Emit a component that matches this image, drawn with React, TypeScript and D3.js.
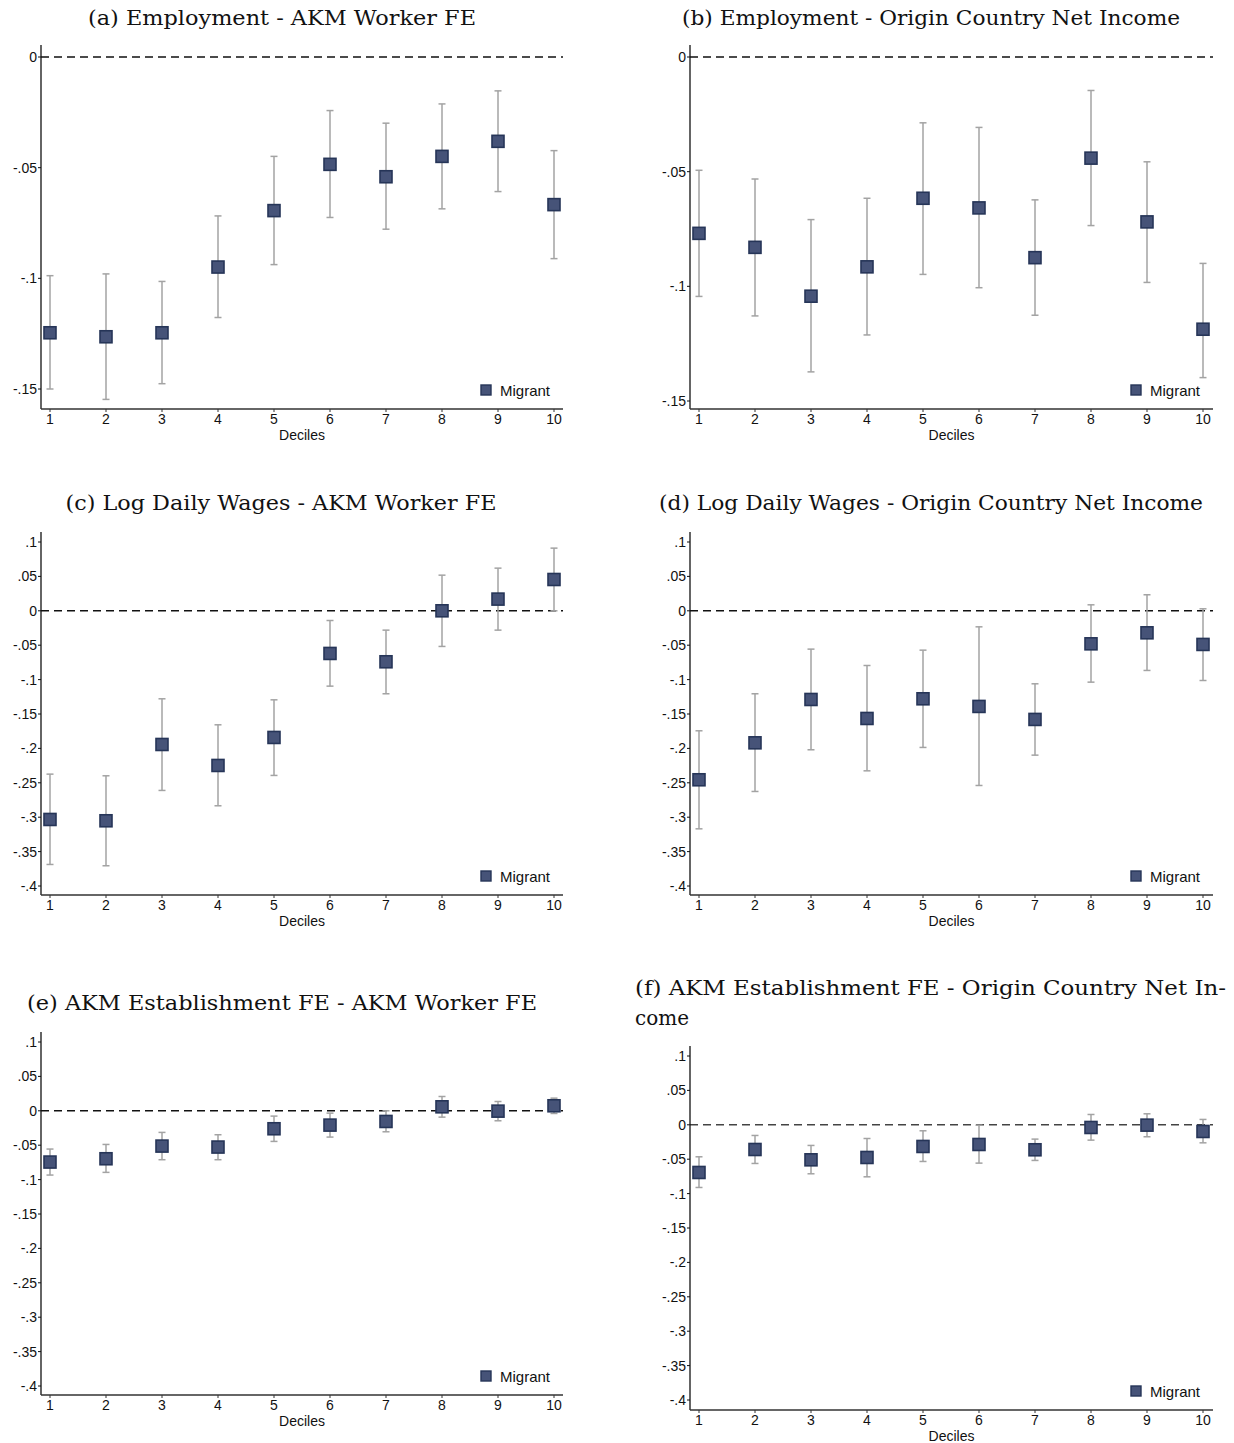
import React from "react";
import * as d3 from "d3";

// Deciles on the x axis
const deciles = [1, 2, 3, 4, 5, 6, 7, 8, 9, 10];

// (a) Employment - AKM Worker FE
const empWorkerCoef = [-0.1246, -0.1264, -0.1246, -0.0949, -0.0694, -0.0485, -0.0541, -0.0449, -0.0381, -0.0667];
const empWorkerLo = [-0.150, -0.1547, -0.1476, -0.1177, -0.0938, -0.0725, -0.0778, -0.0686, -0.0608, -0.0911];
const empWorkerHi = [-0.0988, -0.098, -0.1014, -0.0718, -0.0449, -0.0242, -0.0299, -0.0212, -0.0153, -0.0423];

// (b) Employment - Origin Country Net Income
const empOriginCoef = [-0.0769, -0.083, -0.1043, -0.0915, -0.0616, -0.0658, -0.0875, -0.0441, -0.0719, -0.1187];
const empOriginLo = [-0.1044, -0.1129, -0.1373, -0.1212, -0.0948, -0.1006, -0.1126, -0.0735, -0.0983, -0.1398];
const empOriginHi = [-0.0494, -0.0532, -0.0709, -0.0616, -0.0287, -0.0307, -0.0623, -0.0146, -0.0457, -0.09];

// (c) Log Daily Wages - AKM Worker FE
const wageWorkerCoef = [-0.3033, -0.3052, -0.1943, -0.2248, -0.1841, -0.062, -0.0741, 0, 0.017, 0.0455];
const wageWorkerLo = [-0.3687, -0.3706, -0.2611, -0.2834, -0.2393, -0.1095, -0.1206, -0.0518, -0.0281, 0];
const wageWorkerHi = [-0.2374, -0.2398, -0.1279, -0.1657, -0.1294, -0.0141, -0.0281, 0.0518, 0.062, 0.0911];

// (d) Log Daily Wages - Origin Country Net Income
const wageOriginCoef = [-0.2456, -0.1919, -0.1289, -0.1565, -0.1279, -0.139, -0.1579, -0.048, -0.032, -0.0489];
const wageOriginLo = [-0.3169, -0.2626, -0.202, -0.2326, -0.1986, -0.2539, -0.2098, -0.1037, -0.0867, -0.1013];
const wageOriginHi = [-0.1744, -0.1206, -0.0557, -0.0795, -0.0572, -0.0233, -0.1061, 0.0087, 0.0233, 0.0029];

// (e) AKM Establishment FE - AKM Worker FE
const estWorkerCoef = [-0.0745, -0.0697, -0.0513, -0.0527, -0.0261, -0.0208, -0.0155, 0.0058, -0.0005, 0.0073];
const estWorkerLo = [-0.0934, -0.0895, -0.0711, -0.0711, -0.0445, -0.0382, -0.0305, -0.0092, -0.0145, -0.0039];
const estWorkerHi = [-0.0556, -0.0489, -0.0314, -0.0348, -0.0077, -0.0034, 0, 0.0208, 0.0135, 0.0184];

// (f) AKM Establishment FE - Origin Country Net Income
const estOriginCoef = [-0.0693, -0.0359, -0.0509, -0.0475, -0.0315, -0.0286, -0.0363, -0.0039, -0.0005, -0.0097];
const estOriginLo = [-0.0911, -0.0562, -0.0712, -0.0756, -0.0533, -0.0557, -0.0518, -0.0223, -0.0174, -0.0262];
const estOriginHi = [-0.0465, -0.0155, -0.03, -0.0199, -0.0087, -0.0005, -0.0208, 0.015, 0.016, 0.0078];

// Tick sets
const empTicks = [0, -0.05, -0.1, -0.15];
const wideTicks = [0.1, 0.05, 0, -0.05, -0.1, -0.15, -0.2, -0.25, -0.3, -0.35, -0.4];

const legendLabel = "Migrant";
const xAxisLabel = "Deciles";

const SANS = "'Liberation Sans', Arial, Helvetica, sans-serif";
const SERIF = "'DejaVu Serif', 'Liberation Serif', serif";

// Stata-style tick labels: no leading zero, ASCII hyphen for negatives
const fmtTick = (v: number) => {
  if (v === 0) return "0";
  const s = String(+v.toFixed(3));
  return s.replace("0.", ".");
};

type PanelProps = {
  titleLines: string[];
  titleX: number;
  titleY: number;
  titleWidths: number[];
  titleAnchor: "middle" | "start";
  left: number; // y axis x position
  right: number; // end of x axis
  x1: number; // pixel of decile 1
  x10: number; // pixel of decile 10
  axisTop: number;
  axisBottom: number;
  tickHi: number;
  tickHiPx: number;
  tickLo: number;
  tickLoPx: number;
  ticks: number[];
  coef: number[];
  lo: number[];
  hi: number[];
  zeroColor?: string;
};

function Panel(p: PanelProps) {
  const x = d3.scaleLinear().domain([1, 10]).range([p.x1, p.x10]);
  const y = d3.scaleLinear().domain([p.tickLo, p.tickHi]).range([p.tickLoPx, p.tickHiPx]);
  const ms = 12;
  const cap = 3.5;
  const legendY = p.axisBottom - 19;
  const legendX = p.right - 77;
  return (
    <g>
      {p.titleLines.map((t, i) => (
        <text
          key={i}
          x={p.titleX}
          y={p.titleY + i * 30}
          textAnchor={p.titleAnchor}
          fontFamily={SERIF}
          fontSize={21}
          fill="#111"
          textLength={p.titleWidths[i]}
          lengthAdjust="spacingAndGlyphs"
        >
          {t}
        </text>
      ))}
      {/* zero reference */}
      <line
        x1={p.left}
        x2={p.right}
        y1={y(0)}
        y2={y(0)}
        stroke={p.zeroColor || "#111"}
        strokeWidth={1.6}
        strokeDasharray="8,5"
      />
      {/* axes */}
      <line x1={p.left} x2={p.left} y1={p.axisTop} y2={p.axisBottom} stroke="#111" strokeWidth={1.3} />
      <line x1={p.left} x2={p.right} y1={p.axisBottom} y2={p.axisBottom} stroke="#333" strokeWidth={1.3} />
      {p.ticks.map((t) => (
        <g key={t}>
          <line x1={p.left - 3} x2={p.left} y1={y(t)} y2={y(t)} stroke="#111" strokeWidth={1} />
          <text
            x={p.left - 4}
            y={y(t) + 5}
            textAnchor="end"
            fontFamily={SANS}
            fontSize={14}
            fill="#111"
          >
            {fmtTick(t)}
          </text>
        </g>
      ))}
      {deciles.map((d) => (
        <g key={d}>
          <line x1={x(d)} x2={x(d)} y1={p.axisBottom} y2={p.axisBottom + 3} stroke="#333" strokeWidth={1} />
          <text x={x(d)} y={p.axisBottom + 15} textAnchor="middle" fontFamily={SANS} fontSize={14} fill="#111">
            {d}
          </text>
        </g>
      ))}
      <text
        x={(p.left + p.right) / 2}
        y={p.axisBottom + 31}
        textAnchor="middle"
        fontFamily={SANS}
        fontSize={14}
        fill="#111"
      >
        {xAxisLabel}
      </text>
      {/* confidence intervals */}
      {deciles.map((d, i) => (
        <g key={"ci" + d} stroke="#a3a3a3" strokeWidth={1.5}>
          <line x1={x(d)} x2={x(d)} y1={y(p.lo[i])} y2={y(p.hi[i])} />
          <line x1={x(d) - cap} x2={x(d) + cap} y1={y(p.lo[i])} y2={y(p.lo[i])} />
          <line x1={x(d) - cap} x2={x(d) + cap} y1={y(p.hi[i])} y2={y(p.hi[i])} />
        </g>
      ))}
      {/* point estimates */}
      {deciles.map((d, i) => (
        <rect
          key={"pt" + d}
          x={x(d) - ms / 2}
          y={y(p.coef[i]) - ms / 2}
          width={ms}
          height={ms}
          fill="#465378"
          stroke="#263558"
          strokeWidth={1.6}
        />
      ))}
      {/* legend */}
      <rect x={legendX - 5} y={legendY - 5} width={10} height={10} fill="#465378" stroke="#263558" strokeWidth={1.4} />
      <text x={legendX + 14} y={legendY + 5.5} fontFamily={SANS} fontSize={15} fill="#111">
        {legendLabel}
      </text>
    </g>
  );
}

export default function App() {
  const L = { left: 41, right: 563, x1: 50, x10: 554, titleX: 282 };
  const R = { left: 690, right: 1213, x1: 699, x10: 1203, titleX: 931 };
  return (
    <svg
      width={1234}
      height={1443}
      style={{ position: "absolute", left: 0, top: 0, background: "#fff" }}
    >
      <rect width={1234} height={1443} fill="#fff" />
      <Panel
        {...L}
        titleLines={["(a) Employment - AKM Worker FE"]}
        titleY={25}
        titleWidths={[388]}
        titleAnchor="middle"
        axisTop={45}
        axisBottom={409}
        tickHi={0}
        tickHiPx={57}
        tickLo={-0.15}
        tickLoPx={389}
        ticks={empTicks}
        coef={empWorkerCoef}
        lo={empWorkerLo}
        hi={empWorkerHi}
      />
      <Panel
        {...R}
        titleLines={["(b) Employment - Origin Country Net Income"]}
        titleY={25}
        titleWidths={[498]}
        titleAnchor="middle"
        axisTop={45}
        axisBottom={409}
        tickHi={0}
        tickHiPx={57}
        tickLo={-0.15}
        tickLoPx={401}
        ticks={empTicks}
        coef={empOriginCoef}
        lo={empOriginLo}
        hi={empOriginHi}
      />
      <Panel
        {...L}
        titleX={281}
        titleLines={["(c) Log Daily Wages - AKM Worker FE"]}
        titleY={510}
        titleWidths={[431]}
        titleAnchor="middle"
        axisTop={532}
        axisBottom={895}
        tickHi={0.1}
        tickHiPx={542}
        tickLo={-0.4}
        tickLoPx={886}
        ticks={wideTicks}
        coef={wageWorkerCoef}
        lo={wageWorkerLo}
        hi={wageWorkerHi}
      />
      <Panel
        {...R}
        titleLines={["(d) Log Daily Wages - Origin Country Net Income"]}
        titleY={510}
        titleWidths={[544]}
        titleAnchor="middle"
        axisTop={532}
        axisBottom={895}
        tickHi={0.1}
        tickHiPx={542}
        tickLo={-0.4}
        tickLoPx={886}
        ticks={wideTicks}
        coef={wageOriginCoef}
        lo={wageOriginLo}
        hi={wageOriginHi}
      />
      <Panel
        {...L}
        titleLines={["(e) AKM Establishment FE - AKM Worker FE"]}
        titleY={1010}
        titleWidths={[510]}
        titleAnchor="middle"
        axisTop={1032}
        axisBottom={1395}
        tickHi={0.1}
        tickHiPx={1042}
        tickLo={-0.4}
        tickLoPx={1386}
        ticks={wideTicks}
        coef={estWorkerCoef}
        lo={estWorkerLo}
        hi={estWorkerHi}
      />
      <Panel
        {...R}
        titleX={635}
        titleLines={["(f) AKM Establishment FE - Origin Country Net In-", "come"]}
        titleY={995}
        titleWidths={[591, 54]}
        titleAnchor="start"
        axisTop={1046}
        axisBottom={1410}
        tickHi={0.1}
        tickHiPx={1056}
        tickLo={-0.4}
        tickLoPx={1400}
        ticks={wideTicks}
        coef={estOriginCoef}
        lo={estOriginLo}
        hi={estOriginHi}
        zeroColor="#444"
      />
    </svg>
  );
}
